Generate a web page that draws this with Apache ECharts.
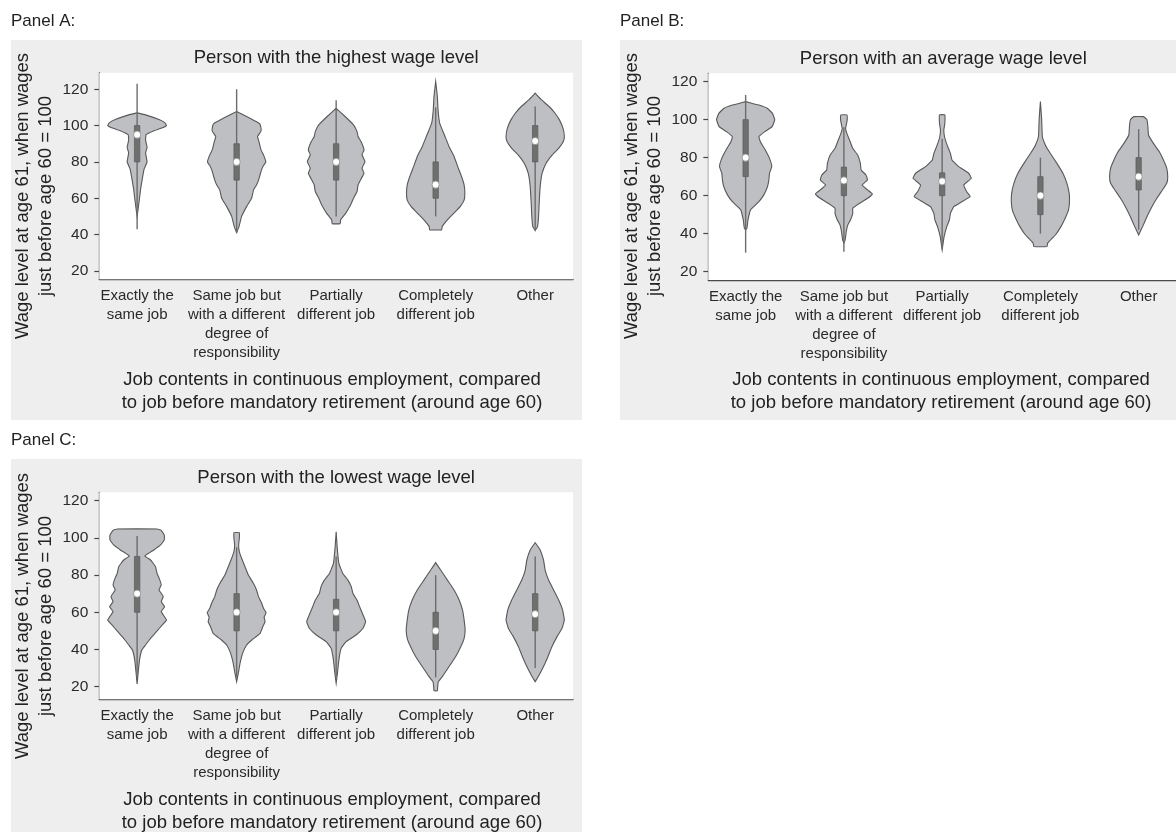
<!DOCTYPE html>
<html>
<head>
<meta charset="utf-8">
<script src="https://cdn.jsdelivr.net/npm/echarts@6/dist/echarts.min.js"></script>
<style>
  html, body { margin: 0; padding: 0; background: #fff; }
  #main { width: 1176px; height: 832px; }
</style>
</head>
<body>
<div id="main"></div>
<script>
var categories = ['Exactly the\nsame job', 'Same job but\nwith a different\ndegree of\nresponsibility',
    'Partially\ndifferent job', 'Completely\ndifferent job', 'Other'];
var yTicks = [20, 40, 60, 80, 100, 120];
var panelTitles = ['Person with the highest wage level', 'Person with an average wage level', 'Person with the lowest wage level'];

// violin outlines: [wage level, half width in category units], read from top to bottom
var densityHigh = [
    [[107, 0], [105.9, 0.085], [103.3, 0.22], [101.5, 0.28], [100, 0.295], [98.5, 0.24], [97.2, 0.17], [95, 0.09], [92, 0.085], [88, 0.1], [85, 0.085], [80, 0.1], [76, 0.07], [70, 0.05], [65, 0.035], [60, 0.024], [54, 0.01], [50, 0]],
    [[107.7, 0], [105, 0.1], [101.3, 0.225], [100, 0.24], [97, 0.245], [94, 0.21], [91, 0.225], [86.6, 0.245], [83.9, 0.27], [80, 0.293], [77.5, 0.265], [75.6, 0.25], [72.8, 0.235], [70, 0.22], [67.3, 0.2], [64.6, 0.17], [60, 0.15], [55.4, 0.1], [50, 0.05], [44.4, 0.024], [41.1, 0]],
    [[109.5, 0], [105, 0.09], [100.4, 0.175], [96.7, 0.21], [94, 0.22], [91.2, 0.25], [86.6, 0.28], [83.9, 0.26], [80.2, 0.29], [76.5, 0.26], [73.8, 0.28], [70, 0.245], [67.3, 0.22], [63.7, 0.21], [60, 0.175], [56.3, 0.145], [51.7, 0.095], [48.1, 0.045], [46, 0.04]],
    [[124.2, 0], [116, 0.017], [108.6, 0.024], [101.3, 0.04], [97.6, 0.067], [94, 0.094], [88.4, 0.135], [83, 0.185], [77.4, 0.222], [72, 0.26], [67.3, 0.286], [62.8, 0.293], [59, 0.286], [55.4, 0.246], [51.7, 0.182], [48.1, 0.118], [44.4, 0.065], [42.6, 0.06]],
    [[117.8, 0], [114, 0.067], [110.5, 0.14], [106.8, 0.2], [103, 0.245], [98.5, 0.28], [94, 0.293], [91.2, 0.283], [87.5, 0.236], [83.9, 0.172], [79.3, 0.11], [73.8, 0.07], [66.4, 0.05], [57.2, 0.04], [50, 0.034], [44.4, 0.024], [42.2, 0]]
];
var densityAvg = [
    [[109.5, 0], [108.5, 0.07], [107.7, 0.135], [106, 0.22], [103.3, 0.273], [100, 0.296], [96.3, 0.27], [93.7, 0.195], [91, 0.135], [88.4, 0.15], [84, 0.2], [79.6, 0.243], [75.3, 0.266], [71.8, 0.243], [68.2, 0.236], [64.7, 0.222], [60.4, 0.185], [56.8, 0.135], [52.5, 0.05], [47.2, 0.024], [42.8, 0.013], [42, 0]],
    [[102.5, 0.03], [100, 0.034], [97.2, 0.024], [95.4, 0.017], [92.8, 0.03], [89.3, 0.057], [84.9, 0.09], [81.4, 0.14], [77, 0.168], [73.5, 0.175], [70.9, 0.225], [68.2, 0.24], [65.6, 0.185], [63, 0.24], [60.9, 0.29], [58.6, 0.242], [56, 0.16], [53.3, 0.09], [50.7, 0.09], [47.2, 0.067], [44.6, 0.04], [41, 0.024], [36.7, 0.013], [35, 0]],
    [[102.5, 0.027], [98, 0.027], [94.6, 0.017], [91, 0.024], [86.7, 0.05], [82.3, 0.084], [78.8, 0.1], [75.3, 0.168], [71.8, 0.27], [69.1, 0.296], [65.6, 0.22], [62.1, 0.25], [59.5, 0.286], [56.8, 0.2], [54.2, 0.118], [50.7, 0.084], [47.2, 0.074], [43.7, 0.047], [38.4, 0.02], [31.4, 0]],
    [[109.5, 0], [100, 0.013], [91, 0.02], [86.7, 0.05], [82.3, 0.1], [77, 0.168], [71.8, 0.229], [66.5, 0.27], [61.2, 0.293], [56.8, 0.296], [52.5, 0.286], [48.1, 0.252], [43.7, 0.209], [39.3, 0.152], [35, 0.074], [33.2, 0.067]],
    [[101.6, 0.05], [100, 0.084], [96.3, 0.094], [91.9, 0.1], [87.5, 0.15], [83.2, 0.209], [78.8, 0.252], [74.4, 0.286], [70, 0.296], [66.5, 0.286], [63, 0.242], [58.6, 0.185], [54.2, 0.135], [48.9, 0.084], [43.7, 0.04], [39.3, 0]]
];
var densityLow = [
    [[104.8, 0.2], [104.2, 0.24], [101.5, 0.273], [98.9, 0.273], [96.2, 0.236], [93.5, 0.168], [90.3, 0.077], [88.1, 0.135], [84.5, 0.185], [80.9, 0.2], [78.2, 0.222], [74.7, 0.242], [72, 0.22], [68.4, 0.263], [65.7, 0.242], [63, 0.276], [60.3, 0.242], [55.8, 0.296], [53.2, 0.253], [49.6, 0.195], [46, 0.135], [42.4, 0.084], [39.7, 0.047], [34.3, 0.024], [27.2, 0.01], [21.4, 0]],
    [[102.8, 0.027], [99.7, 0.027], [96.2, 0.02], [92.6, 0.027], [89, 0.05], [84.5, 0.084], [80, 0.118], [75.6, 0.168], [72, 0.2], [68.4, 0.22], [64.8, 0.252], [62.1, 0.27], [59.8, 0.296], [57.3, 0.276], [55, 0.286], [52.3, 0.263], [48.7, 0.236], [45.1, 0.152], [42.4, 0.1], [37.9, 0.06], [32.5, 0.034], [27.2, 0.017], [22.7, 0]],
    [[103.3, 0], [95.3, 0.01], [86.3, 0.027], [80.9, 0.067], [77.3, 0.118], [73.8, 0.152], [70.2, 0.168], [66.6, 0.209], [63, 0.236], [59.5, 0.263], [55, 0.296], [51.4, 0.27], [47.8, 0.2], [44.2, 0.1], [40.6, 0.05], [34.3, 0.027], [27.2, 0.013], [21.8, 0]],
    [[86.7, 0], [82.7, 0.05], [77.3, 0.118], [72, 0.185], [66.6, 0.236], [61.2, 0.27], [55.8, 0.286], [50.5, 0.296], [46, 0.286], [41.5, 0.252], [36.1, 0.2], [30.8, 0.135], [25.4, 0.067], [22.7, 0.027], [20, 0.02], [17.8, 0.017]],
    [[97.4, 0], [93.5, 0.05], [88.1, 0.084], [82.7, 0.1], [77.3, 0.135], [72, 0.185], [66.6, 0.236], [61.2, 0.276], [55.8, 0.293], [51.4, 0.27], [46.9, 0.22], [41.5, 0.168], [36.1, 0.128], [30.8, 0.084], [26.3, 0.04], [22.7, 0]]
];

// [line low, q1, median, q3, line high]
var boxHigh = [[43, 80, 95, 100, 123], [41, 70, 80, 90, 120], [50, 70, 80, 90, 114], [50, 60, 67.5, 80, 110], [43, 80, 91.5, 100, 110.5]];
var boxAvg = [[30, 70, 80, 100, 113], [30.5, 60, 68, 75, 96], [32, 60, 67.5, 72, 90], [40, 50, 60, 70, 80], [42, 63, 70, 80, 95]];
var boxLow = [[25, 60, 70, 90, 101], [25, 50, 60, 70, 95], [25, 50, 60, 67, 90], [25, 40, 50, 60, 80], [30, 50, 59, 70, 90]];

var FONT = "'Liberation Sans', Arial, sans-serif";
var chart = echarts.init(document.getElementById('main'));

function violinRenderer(density) {
    return function(params, api) {
        var x = api.value(0);
        var outline = density[params.dataIndex];
        var pts = [];
        for (var i = 0; i < outline.length; i++) pts.push(api.coord([x + outline[i][1], outline[i][0]]));
        for (var j = outline.length - 1; j >= 0; j--) pts.push(api.coord([x - outline[j][1], outline[j][0]]));
        var lo = api.coord([x, api.value(1)]);
        var q1 = api.coord([x, api.value(2)]);
        var med = api.coord([x, api.value(3)]);
        var q3 = api.coord([x, api.value(4)]);
        var hi = api.coord([x, api.value(5)]);
        var bw = api.coord([x + 0.027, 50])[0] - api.coord([x, 50])[0];
        return {
            type: 'group',
            children: [
                { type: 'polygon', shape: { points: pts, smooth: 0.1 }, style: { fill: '#bebfc3', stroke: '#585858', lineWidth: 1.1 } },
                { type: 'line', shape: { x1: lo[0], y1: lo[1], x2: hi[0], y2: hi[1] }, style: { stroke: '#6c6c6c', lineWidth: 1.4 } },
                { type: 'rect', shape: { x: q3[0] - bw, y: q3[1], width: 2 * bw, height: q1[1] - q3[1] }, style: { fill: '#6f6f6f', stroke: '#5e5e5e', lineWidth: 0.8 } },
                { type: 'circle', shape: { cx: med[0], cy: med[1], r: 3.6 }, style: { fill: '#fff', stroke: '#8a8a8a', lineWidth: 0.8 } }
            ]
        };
    };
}

// plot boxes in pixels: [left, top, width, height]
var panels = [
    { grid: [99.3, 72.7, 473.7, 206.6], y: [15.4, 129.1], density: densityHigh, box: boxHigh },
    { grid: [708.3, 73.3, 470, 206.7], y: [15.6, 124.4], density: densityAvg, box: boxAvg },
    { grid: [99.3, 492.3, 473.7, 207], y: [13.2, 124.5], density: densityLow, box: boxLow }
];

var grids = [], xAxes = [], yAxes = [], series = [];
panels.forEach(function(p, k) {
    grids.push({ left: p.grid[0], top: p.grid[1], width: p.grid[2], height: p.grid[3], show: true, backgroundColor: '#fff', borderWidth: 0, z: 1 });
    xAxes.push({
        gridIndex: k, type: 'value', min: 0.62, max: 5.38,
        axisLine: { show: true, onZero: false, lineStyle: { color: '#4a4a4a', width: 1.3 } },
        axisTick: { show: false },
        splitLine: { show: false },
        axisLabel: {
            customValues: [1, 2, 3, 4, 5],
            formatter: function(v) { return categories[Math.round(v) - 1]; },
            fontFamily: FONT, fontSize: 15, lineHeight: 19, color: '#2a2a2a', margin: 7
        }
    });
    yAxes.push({
        gridIndex: k, type: 'value', min: p.y[0], max: p.y[1],
        axisLine: { show: true, onZero: false, lineStyle: { color: '#4a4a4a', width: 1.3 } },
        axisTick: { show: true, customValues: yTicks, length: 5, lineStyle: { color: '#4a4a4a', width: 1.2 } },
        axisLabel: { customValues: yTicks, fontFamily: FONT, fontSize: 15.5, color: '#2a2a2a', margin: 11 },
        splitLine: { show: true, showMinLine: false, showMaxLine: false, lineStyle: { color: '#ebebeb', width: 1.3 } }
    });
    series.push({
        type: 'custom', xAxisIndex: k, yAxisIndex: k,
        renderItem: violinRenderer(p.density),
        encode: { x: 0, y: [1, 2, 3, 4, 5] },
        data: p.box.map(function(b, i) { return [i + 1].concat(b); }),
        silent: true, z: 3
    });
});

var graphics = [];
var bgs = [[11, 40, 571, 380], [620, 40, 556, 380], [11, 459, 571, 373]];
var labels = ['Panel A:', 'Panel B:', 'Panel C:'];
var labelPos = [[11, 30], [620, 30], [11, 449]];
bgs.forEach(function(b, k) {
    graphics.push({ type: 'rect', z: -10, shape: { x: b[0], y: b[1], width: b[2], height: b[3] }, style: { fill: '#eeeeee' } });
    graphics.push({ type: 'text', z: 10, style: { text: labels[k], x: labelPos[k][0], y: labelPos[k][1], font: '17px ' + FONT, fill: '#222', align: 'left', verticalAlign: 'bottom', textAlign: 'left', textVerticalAlign: 'bottom' } });
});
panels.forEach(function(p, k) {
    var cx = p.grid[0] + p.grid[2] / 2;
    var dx = k === 1 ? 609 : 0;
    var dy = k === 2 ? 420 : 0;
    graphics.push({ type: 'text', z: 10, style: { text: panelTitles[k], x: cx, y: p.grid[1] - 14.5, font: '18.5px ' + FONT, fill: '#222', align: 'center', verticalAlign: 'middle', textAlign: 'center', textVerticalAlign: 'middle' } });
    graphics.push({ type: 'text', z: 10, x: 34.5 + dx, y: 196 + dy, rotation: Math.PI / 2,
        style: { text: 'Wage level at age 61, when wages\njust before age 60 = 100', x: 0, y: 0, font: '18.5px ' + FONT, lineHeight: 22.5, fill: '#222', align: 'center', verticalAlign: 'middle', textAlign: 'center', textVerticalAlign: 'middle' } });
    graphics.push({ type: 'text', z: 10, style: { text: 'Job contents in continuous employment, compared\nto job before mandatory retirement (around age 60)', x: 332 + dx, y: 391.3 + dy, font: '18.5px ' + FONT, lineHeight: 22.7, fill: '#222', align: 'center', verticalAlign: 'middle', textAlign: 'center', textVerticalAlign: 'middle' } });
});

chart.setOption({
    backgroundColor: '#fff',
    animation: false,
    grid: grids,
    xAxis: xAxes,
    yAxis: yAxes,
    series: series,
    graphic: { elements: graphics }
});
</script>
</body>
</html>
